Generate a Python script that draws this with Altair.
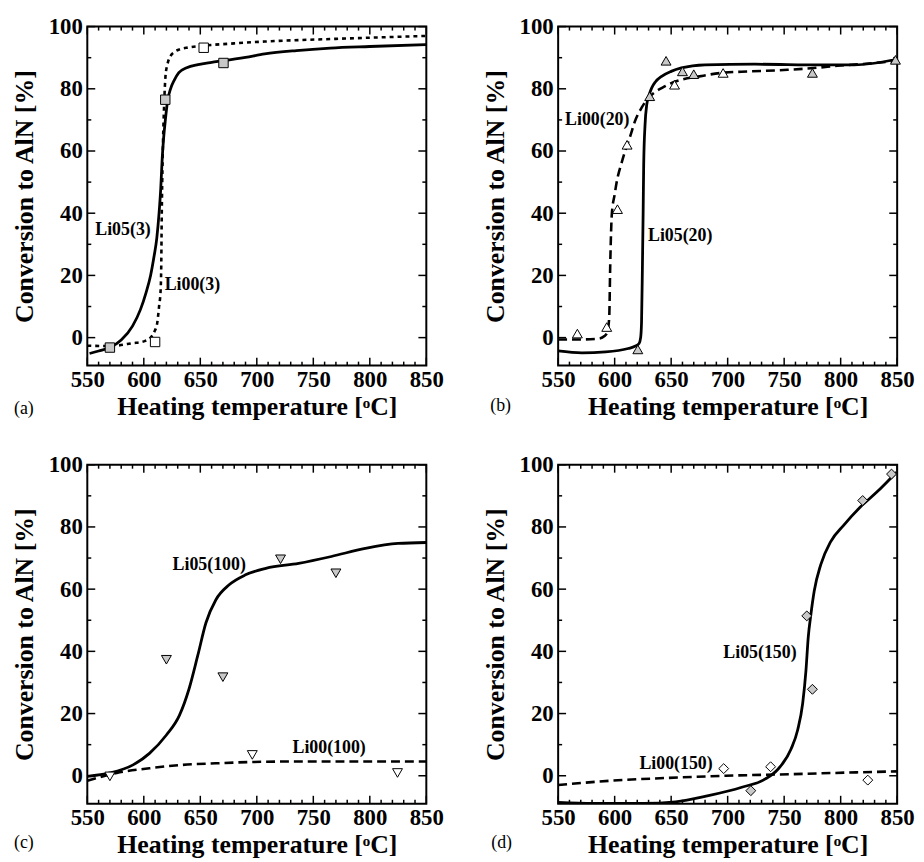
import altair as alt
import pandas as pd

FONT = "Liberation Serif, Times New Roman, Times, serif"
W = 342
H = 342
XDOM = [550, 850]
YDOM = [-9, 100]
GRAY = "#c8c8c8"

x_major = [550, 600, 650, 700, 750, 800, 850]
x_minor = [560, 570, 580, 590, 610, 620, 630, 640, 660, 670, 680, 690, 710, 720, 730, 740,
           760, 770, 780, 790, 810, 820, 830, 840]
y_major = [0, 20, 40, 60, 80, 100]
y_minor = [10, 30, 50, 70, 90]

X_TITLE = "Heating temperature [ᵒC]"
Y_TITLE = "Conversion to AlN [%]"

# ---------- panel (a) ----------
a_solid_T = [552, 560, 570, 580, 590, 597, 602, 606, 609, 611.5, 613.5, 615, 616.3, 617.5, 619.2, 621,
             623.6, 627, 631, 638, 648, 660, 670, 690, 707, 735, 765, 800, 850]
a_solid_C = [-5.1, -4.3, -3.2, -0.8, 3.7, 9, 14.5, 20, 26, 32, 40, 48, 57.7, 64, 70.4, 76,
             79.9, 82.8, 85.2, 86.8, 87.8, 88.5, 89, 90.1, 91.2, 92.3, 93.1, 93.6, 94.2]
a_dash_T = [550, 570, 590, 600, 606, 609.5, 612, 613.5, 614.9, 615.5, 615.8, 616.3, 617, 618, 619.2,
            621, 623.6, 627, 631, 640, 654, 680, 707, 765, 850]
a_dash_C = [-2.6, -2.7, -1.8, -1.2, 0, 2, 5, 10, 15.3, 25, 36.5, 50, 63, 75, 84.1,
            88, 90.5, 91.8, 92.6, 93.3, 93.9, 94.6, 95.2, 96, 97]
a_gray_T = [570, 619, 670.5]
a_gray_C = [-3.2, 76.5, 88.3]
a_white_T = [610, 653]
a_white_C = [-1.4, 93.2]
a_lab = ["Li05(3)", "Li00(3)"]
a_lab_T = [581.6, 643]
a_lab_C = [34.5, 17]

# ---------- panel (b) ----------
b_solid_T = [550, 571, 592, 612, 618, 621.6, 623, 623.8, 624.6, 625.2, 625.7, 626.9, 628.4, 630.5,
             632.8, 636, 641.6, 650, 659, 680, 724, 782, 812, 850]
b_solid_C = [-4.3, -4.9, -4.6, -3.5, -2.8, -1.9, 0, 5, 23.7, 40, 55.7, 68.5, 74.9, 78,
             80.3, 82.2, 84, 85.6, 86.7, 87.7, 87.9, 87.7, 87.7, 89.5]
b_dash_T = [550, 570, 586, 591, 593.5, 595.2, 596.1, 597.5, 600, 602, 606, 609.3, 614, 618, 624,
            630, 636, 642, 650, 659, 675, 694, 720, 753, 780, 797, 820, 850]
b_dash_C = [-0.6, -0.6, -0.3, 0.5, 1.8, 6.6, 23.7, 39.7, 46, 50.4, 56, 60, 65, 69.6, 74,
            77.1, 79, 80.3, 81.8, 82.9, 84, 85.1, 85.6, 86.1, 86.8, 87.4, 88, 89]
b_gray_T = [620.5, 631, 645.5, 660, 670, 775, 848.5]
b_gray_C = [-3.8, 77.6, 89, 85.6, 84.7, 85.1, 89.3]
b_white_T = [567, 593, 602.5, 611, 653, 696]
b_white_C = [1.3, 3.4, 41.3, 62, 81.3, 85.1]
b_lab = ["Li00(20)", "Li05(20)"]
b_lab_T = [584.6, 658]
b_lab_C = [70.1, 32.8]

# ---------- panel (c) ----------
c_solid_T = [550, 570, 590.5, 605, 620, 631.5, 640, 647.7, 655, 663.8, 675.5, 690, 708, 737, 766,
             796, 825, 850]
c_solid_C = [-0.2, 0.9, 3.5, 7.2, 13.1, 19.4, 27.9, 38.6, 49.2, 56.6, 61.4, 64.6, 66.7, 68.3, 70.5,
             73.1, 74.7, 75]
c_dash_T = [550, 576, 605, 634.5, 664, 693, 737, 796, 850]
c_dash_C = [-1.6, 0.9, 2.4, 3.5, 4, 4.4, 4.6, 4.6, 4.6]
c_gray_T = [620, 670, 721, 770]
c_gray_C = [37.3, 31.7, 69.6, 65.1]
c_white_T = [570, 696, 824.5]
c_white_C = [-0.2, 6.7, 0.9]
c_lab = ["Li05(100)", "Li00(100)"]
c_lab_T = [657.9, 764]
c_lab_C = [67.8, 8.8]

# ---------- panel (d) ----------
d_solid_T = [550, 581.5, 625, 654, 683, 712.5, 733, 744.5, 756, 762, 766.4, 769.3, 771.3, 773.7,
             776.6, 782.4, 791.2, 802.8, 817.4, 832, 849.4]
d_solid_C = [-8.6, -8.9, -8.9, -8.4, -6.4, -3.7, -1.1, 2.1, 8.5, 14.8, 23.3, 33.9, 44.5, 52,
             59.4, 67.9, 75.3, 80.6, 86.4, 91.2, 97.6]
d_dash_T = [550, 596, 640, 698, 756, 814, 850]
d_dash_C = [-3, -1.6, -0.8, 0, 0.5, 1.1, 1.4]
d_gray_T = [720.5, 770, 775, 819.5, 845]
d_gray_C = [-4.8, 51.4, 27.8, 88.5, 97]
d_white_T = [696.5, 738, 824]
d_white_C = [2.3, 2.9, -1.4]
d_lab = ["Li05(150)", "Li00(150)"]
d_lab_T = [728.6, 654.3]
d_lab_C = [39.4, 3.7]

xaxis = alt.Axis(values=x_major, title=X_TITLE, labelFont=FONT, labelFontWeight="bold",
                 labelFontSize=23, labelColor="black", labelPadding=3, labelFlush=False,
                 labelOverlap=False, ticks=False, domain=False, grid=False,
                 titleFont=FONT, titleFontSize=26, titleFontWeight="bold", titleColor="black",
                 titlePadding=2)
yaxis = alt.Axis(values=y_major, title=Y_TITLE, labelFont=FONT, labelFontWeight="bold",
                 labelFontSize=23, labelColor="black", labelPadding=5, labelFlush=False,
                 labelOverlap=False, ticks=False, domain=False, grid=False,
                 titleFont=FONT, titleFontSize=26, titleFontWeight="bold", titleColor="black",
                 titlePadding=9, minExtent=41, maxExtent=41)


def X(f="T"):
    return alt.X(f"{f}:Q", scale=alt.Scale(domain=XDOM, nice=False, zero=False), axis=xaxis)


def Y(f="C"):
    return alt.Y(f"{f}:Q", scale=alt.Scale(domain=YDOM, nice=False, zero=False), axis=yaxis)


def tick_layers():
    layers = []
    for vals, ln in ((x_major, 8), (x_minor, 4)):
        df = pd.DataFrame({"T": vals})
        layers.append(alt.Chart(df).mark_rule(color="black", strokeWidth=1.5).encode(
            x=X(), y=alt.value(H), y2=alt.value(H - ln)))
        layers.append(alt.Chart(df).mark_rule(color="black", strokeWidth=1.5).encode(
            x=X(), y=alt.value(0), y2=alt.value(ln)))
    for vals, ln in ((y_major, 8), (y_minor, 4)):
        df = pd.DataFrame({"C": vals})
        layers.append(alt.Chart(df).mark_rule(color="black", strokeWidth=1.5).encode(
            y=Y(), x=alt.value(0), x2=alt.value(ln)))
        layers.append(alt.Chart(df).mark_rule(color="black", strokeWidth=1.5).encode(
            y=Y(), x=alt.value(W), x2=alt.value(W - ln)))
    return layers


def panel(solid, dash, dashpat, gray, white, shape, size, labels, letter, ldx, ldy):
    sdf = pd.DataFrame({"T": solid[0], "C": solid[1]})
    ddf = pd.DataFrame({"T": dash[0], "C": dash[1]})
    gdf = pd.DataFrame({"T": gray[0], "C": gray[1]})
    wdf = pd.DataFrame({"T": white[0], "C": white[1]})
    ldf = pd.DataFrame({"T": labels[1], "C": labels[2], "lab": labels[0]})
    letdf = pd.DataFrame({"t": [letter]})
    layers = tick_layers()
    layers.append(alt.Chart(ddf).mark_line(color="black", strokeWidth=2.6, strokeDash=dashpat,
                                           interpolate="monotone", clip=True)
                  .encode(x=X(), y=Y(), order="T:Q"))
    layers.append(alt.Chart(sdf).mark_line(color="black", strokeWidth=2.8,
                                           interpolate="monotone", clip=True)
                  .encode(x=X(), y=Y(), order="T:Q"))
    layers.append(alt.Chart(gdf).mark_point(shape=shape, size=size, filled=True, fill=GRAY,
                                            stroke="black", strokeWidth=1, opacity=1)
                  .encode(x=X(), y=Y()))
    layers.append(alt.Chart(wdf).mark_point(shape=shape, size=size, filled=True, fill="white",
                                            stroke="black", strokeWidth=1, opacity=1)
                  .encode(x=X(), y=Y()))
    layers.append(alt.Chart(ldf).mark_text(font=FONT, fontWeight="bold", fontSize=18,
                                           color="black", align="center", baseline="middle")
                  .encode(x=X(), y=Y(), text="lab:N"))
    layers.append(alt.Chart(letdf).mark_text(font=FONT, fontSize=18, color="black",
                                             align="center", baseline="middle")
                  .encode(x=alt.value(ldx), y=alt.value(H + ldy), text="t:N"))
    return alt.layer(*layers).properties(width=W, height=H)


pa = panel((a_solid_T, a_solid_C), (a_dash_T, a_dash_C), [4, 4], (a_gray_T, a_gray_C),
           (a_white_T, a_white_C), "square", 90, (a_lab, a_lab_T, a_lab_C), "(a)", -64, 44)
pb = panel((b_solid_T, b_solid_C), (b_dash_T, b_dash_C), [9, 5], (b_gray_T, b_gray_C),
           (b_white_T, b_white_C), "triangle-up", 100, (b_lab, b_lab_T, b_lab_C), "(b)", -58, 41)
pc = panel((c_solid_T, c_solid_C), (c_dash_T, c_dash_C), [9, 5], (c_gray_T, c_gray_C),
           (c_white_T, c_white_C), "triangle-down", 100, (c_lab, c_lab_T, c_lab_C), "(c)", -64, 40)
pd_ = panel((d_solid_T, d_solid_C), (d_dash_T, d_dash_C), [9, 5], (d_gray_T, d_gray_C),
            (d_white_T, d_white_C), "diamond", 100, (d_lab, d_lab_T, d_lab_C), "(d)", -57, 40)

chart = alt.concat(pa, pb, pc, pd_, columns=2, spacing={"row": 100, "column": 133},
                   bounds="flush").properties(
    padding={"left": 3, "top": 3, "right": 0, "bottom": 0}
).configure_view(stroke="black", strokeWidth=2)

chart.save("out.html", embed_options={"renderer": "svg", "actions": False})
